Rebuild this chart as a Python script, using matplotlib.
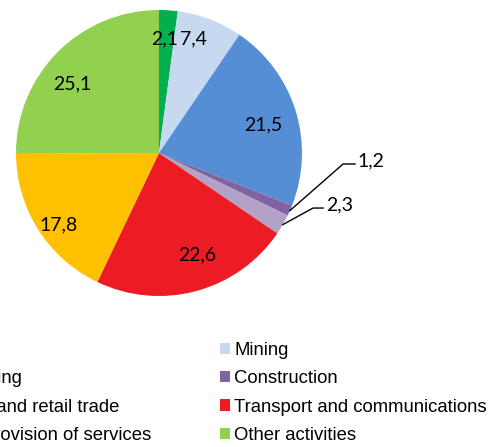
import numpy as np
import matplotlib
matplotlib.use("Agg")
import matplotlib.pyplot as plt
from matplotlib.patches import Patch

# data (shares, %)
sectors = [
    "Agriculture",
    "Mining",
    "Manufacturing",
    "Construction",
    "Wholesale and retail trade",
    "Transport and communications",
    "Financial provision of services",
    "Other activities",
]
shares = [2.1, 7.4, 21.5, 1.2, 2.3, 22.6, 17.8, 25.1]
share_labels = ["2,1", "7,4", "21,5", "1,2", "2,3", "22,6", "17,8", "25,1"]

colors = ["#00B050", "#C6D9F1", "#558ED5", "#8064A2",
          "#B3A2C7", "#ED1C24", "#FFC000", "#92D050"]

# label placement (data coords of the pie, radius 1)
label_pos = {
    0: (0.042, 0.797),
    1: (0.238, 0.797),
    2: (0.727, 0.196),
    5: (0.266, -0.713),
    6: (-0.699, -0.503),
    7: (-0.608, 0.483),
}
# leader lines for the thin slices: elbow point and label start
leaders = {
    3: ((1.287, -0.077), (1.371, -0.077)),
    4: ((1.077, -0.385), (1.147, -0.385)),
}

W, H = 501, 447
fig = plt.figure(figsize=(W / 100, H / 100), dpi=100)

cx, cy, r = 159, 153, 143
ax = fig.add_axes([(cx - r) / W, (H - cy - r) / H, 2 * r / W, 2 * r / H])
wedges, _ = ax.pie(shares, colors=colors, startangle=90, counterclock=False,
                   wedgeprops=dict(linewidth=0))
ax.set_xlim(-1, 1)
ax.set_ylim(-1, 1)
ax.set_aspect("auto")

label_font = dict(family="Lato", fontsize=14, color="black")
for i, txt in enumerate(share_labels):
    if i in label_pos:
        x, y = label_pos[i]
        ax.text(x, y, txt, ha="center", va="center", **label_font)
    else:
        w = wedges[i]
        mid = np.deg2rad((w.theta1 + w.theta2) / 2)
        start = (np.cos(mid), np.sin(mid))
        elbow, end = leaders[i]
        ax.plot([start[0], elbow[0], end[0]], [start[1], elbow[1], end[1]],
                color="black", lw=1, clip_on=False)
        ax.text(end[0] + 0.02, end[1] + 0.02, txt, ha="left", va="center", **label_font)

# legend is filled row by row in the reference -> reorder for matplotlib's column fill
# (left column runs off the left edge, as in the reference)
order = [0, 2, 4, 6, 1, 3, 5, 7]
handles = [Patch(facecolor=colors[i], edgecolor="none") for i in order]
labels = [sectors[i] for i in order]
fig.legend(handles, labels, ncol=2, loc="center right",
           bbox_to_anchor=(487 / W, 1 - 393 / H),
           frameon=False, borderpad=0, borderaxespad=0,
           prop=dict(family="Liberation Sans", size=13.3),
           handlelength=0.54, handleheight=0.54, handletextpad=0.25,
           columnspacing=3.7, labelspacing=0.6)

fig.savefig("out.png", dpi=100)
